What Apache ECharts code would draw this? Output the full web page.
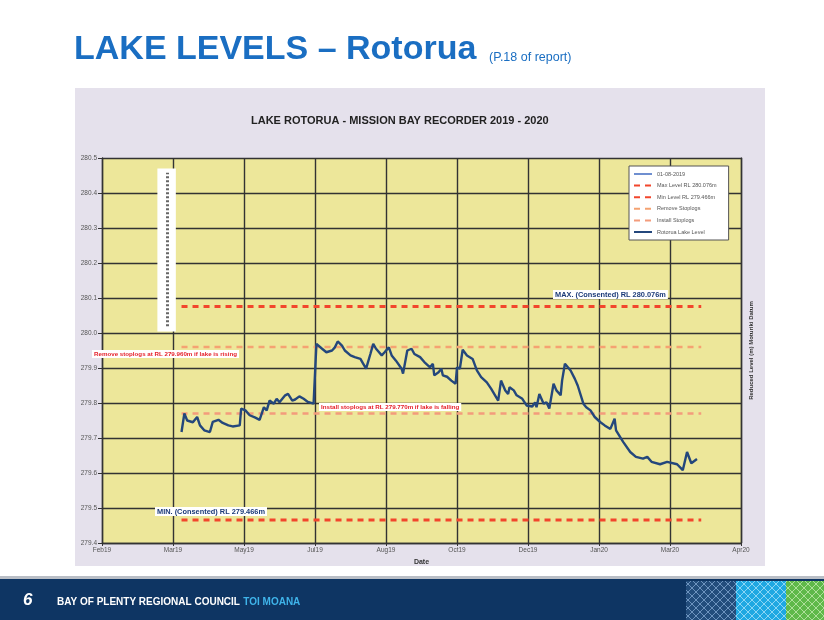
<!DOCTYPE html>
<html>
<head>
<meta charset="utf-8">
<script src="https://cdn.jsdelivr.net/npm/echarts@6/dist/echarts.min.js"></script>
<style>
  html, body { margin: 0; padding: 0; background: #fff; }
  #chart { width: 824px; height: 620px; }
</style>
</head>
<body>
<div id="chart"></div>
<script>
// lake level readings (Mission Bay recorder)
const dates = [
  '2019-04-01','2019-04-03','2019-04-05','2019-04-09','2019-04-12','2019-04-14','2019-04-17','2019-04-21','2019-04-23','2019-04-27','2019-04-30',
  '2019-05-04','2019-05-07','2019-05-12','2019-05-13','2019-05-16','2019-05-19','2019-05-23','2019-05-26','2019-05-29','2019-05-31',
  '2019-06-02','2019-06-05','2019-06-07','2019-06-09','2019-06-13','2019-06-15','2019-06-18','2019-06-20','2019-06-23','2019-06-26','2019-06-29',
  '2019-07-03','2019-07-05','2019-07-06','2019-07-09','2019-07-12','2019-07-16','2019-07-18','2019-07-20','2019-07-23','2019-07-25','2019-07-29',
  '2019-08-01','2019-08-05','2019-08-07','2019-08-09','2019-08-12','2019-08-14','2019-08-16','2019-08-20','2019-08-22','2019-08-25','2019-08-27','2019-08-30',
  '2019-09-03','2019-09-04','2019-09-07','2019-09-10','2019-09-12','2019-09-16','2019-09-19','2019-09-23','2019-09-25','2019-09-26','2019-09-29',
  '2019-10-01','2019-10-02','2019-10-05','2019-10-08','2019-10-11','2019-10-12','2019-10-14','2019-10-16','2019-10-19','2019-10-21','2019-10-23','2019-10-26','2019-10-29',
  '2019-11-02','2019-11-05','2019-11-10','2019-11-12','2019-11-15','2019-11-17','2019-11-18','2019-11-21','2019-11-23','2019-11-27','2019-11-30',
  '2019-12-04','2019-12-06','2019-12-07','2019-12-09','2019-12-12','2019-12-14','2019-12-16','2019-12-19','2019-12-21','2019-12-24','2019-12-25','2019-12-27','2019-12-31',
  '2020-01-03','2020-01-05','2020-01-09','2020-01-11','2020-01-14','2020-01-17','2020-01-21','2020-01-24','2020-01-28','2020-01-31',
  '2020-02-01','2020-02-06','2020-02-11','2020-02-15','2020-02-20','2020-02-23','2020-02-26',
  '2020-03-03','2020-03-08','2020-03-15','2020-03-19','2020-03-22','2020-03-25','2020-03-29'
];
const levels = [
  279.717,279.770,279.750,279.745,279.760,279.736,279.722,279.717,279.746,279.752,279.743,
  279.736,279.733,279.736,279.784,279.779,279.765,279.758,279.752,279.788,279.779,
  279.807,279.798,279.812,279.802,279.822,279.826,279.807,279.810,279.819,279.812,279.803,
  279.798,279.969,279.974,279.955,279.945,279.950,279.959,279.976,279.964,279.950,279.936,
  279.931,279.926,279.912,279.898,279.940,279.969,279.955,279.936,279.945,279.959,279.936,279.921,
  279.898,279.884,279.950,279.955,279.940,279.931,279.917,279.902,279.912,279.879,279.888,
  279.898,279.879,279.875,279.864,279.855,279.902,279.898,279.952,279.936,279.931,279.926,279.893,279.874,
  279.859,279.841,279.807,279.864,279.836,279.826,279.845,279.836,279.822,279.812,279.793,
  279.790,279.802,279.788,279.826,279.798,279.802,279.784,279.855,279.836,279.822,279.864,279.912,279.893,
  279.869,279.850,279.798,279.788,279.779,279.760,279.745,279.736,279.726,279.755,
  279.722,279.689,279.660,279.646,279.641,279.646,279.632,
  279.625,279.632,279.625,279.608,279.660,279.628,279.640
];

// reference levels (m)
const maxLevel = 280.076;
const minLevel = 279.466;
const removeLevel = 279.960;
const installLevel = 279.770;
const refStart = '2019-04-01';
const refEnd = '2020-04-01';

// white marker box with the dotted bar
const boxDates = ['2019-03-15', '2019-03-28'];
const boxMid = '2019-03-22';
const boxLevels = [280.004, 280.47];

// axes
const axisStart = '2019-02-04';
const axisDays = 450;
const tickDays = 50;
const yMin = 279.4, yMax = 280.5, yStep = 0.1;
const monthNames = ['Jan','Feb','Mar','Apr','May','Jun','Jul','Aug','Sep','Oct','Nov','Dec'];

const legendNames = ['01-08-2019', 'Max Level RL 280.076m', 'Min Level RL 279.466m',
  'Remove Stoplogs', 'Install Stoplogs', 'Rotorua Lake Level'];

const DAY = 86400000;
function utc(s) {
  const p = s.split('-').map(Number);
  return Date.UTC(p[0], p[1] - 1, p[2]);
}
const base = utc(axisStart);
function dayOf(s) { return (utc(s) - base) / DAY; }

const lakeData = dates.map((d, i) => [dayOf(d), levels[i]]);
function flat(v) { return [[dayOf(refStart), v], [dayOf(refEnd), v]]; }

const FONT = 'Liberation Sans, Arial, sans-serif';
const chart = echarts.init(document.getElementById('chart'));

function dashed(name, value, color, width) {
  return {
    name: name, type: 'line', data: flat(value), symbol: 'none', silent: true,
    lineStyle: { color: color, width: width, type: [6, 5] }, z: 3
  };
}

function note(x, y, text, color, size) {
  return {
    type: 'text', left: x, top: y, z: 50,
    style: {
      text: text, fill: color, font: 'bold ' + size + 'px ' + FONT,
      backgroundColor: '#ffffff', padding: [1, 2]
    }
  };
}

// lattice texture for the footer logo blocks
function lattice(bg, fg) {
  const c = document.createElement('canvas');
  c.width = 8; c.height = 8;
  const g = c.getContext('2d');
  g.fillStyle = bg; g.fillRect(0, 0, 8, 8);
  g.strokeStyle = fg; g.lineWidth = 1;
  g.beginPath();
  g.moveTo(0, 0); g.lineTo(8, 8);
  g.moveTo(8, 0); g.lineTo(0, 8);
  g.stroke();
  return { image: c, repeat: 'repeat' };
}

const option = {
  animation: false,
  textStyle: { fontFamily: FONT },
  title: {
    text: 'LAKE ROTORUA - MISSION BAY RECORDER 2019 - 2020',
    left: 246, top: 110,
    textStyle: { fontSize: 11, fontWeight: 'bold', color: '#222', fontFamily: FONT }
  },
  legend: {
    data: legendNames,
    orient: 'vertical',
    left: 629, top: 166,
    itemWidth: 18, itemHeight: 6, itemGap: 5.6,
    padding: [5, 12, 5, 4],
    backgroundColor: '#ffffff',
    borderColor: '#555', borderWidth: 1,
    itemStyle: { opacity: 0 },
    textStyle: { fontSize: 5.5, color: '#555', fontFamily: FONT }
  },
  grid: {
    left: 102, right: 83, top: 158, bottom: 77,
    show: true, backgroundColor: '#ede79a', borderWidth: 0
  },
  xAxis: {
    type: 'value', min: 0, max: axisDays, interval: tickDays,
    name: 'Date', nameLocation: 'middle', nameGap: 11,
    nameTextStyle: { fontSize: 7, fontWeight: 'bold', color: '#333' },
    axisLine: { lineStyle: { color: '#333', width: 1.4 } },
    axisTick: { show: true, length: 3, lineStyle: { color: '#333' } },
    axisLabel: {
      fontSize: 6.5, color: '#555', margin: 4,
      formatter: function (v) {
        const d = new Date(base + v * DAY);
        return monthNames[d.getUTCMonth()] + String(d.getUTCFullYear()).slice(2);
      }
    },
    splitLine: { show: true, lineStyle: { color: '#333', width: 1.4 } }
  },
  yAxis: [{
    type: 'value', min: yMin, max: yMax, interval: yStep,
    axisLine: { show: true, lineStyle: { color: '#333', width: 1.4 } },
    axisTick: { show: true, length: 4, lineStyle: { color: '#333' } },
    axisLabel: { fontSize: 6.5, color: '#555', margin: 5, formatter: v => v.toFixed(1) },
    splitLine: { show: true, lineStyle: { color: '#333', width: 1.4 } }
  }, {
    type: 'value', min: yMin, max: yMax, interval: yStep, position: 'right',
    name: 'Reduced Level (m) Moturiki Datum', nameLocation: 'middle', nameGap: 7, nameRotate: 90,
    nameTextStyle: { fontSize: 6, fontWeight: 'bold', color: '#333' },
    axisLine: { show: true, lineStyle: { color: '#333', width: 1.4 } },
    axisTick: { show: false }, axisLabel: { show: false }, splitLine: { show: false }
  }],
  graphic: [
    { type: 'rect', shape: { x: 75, y: 88, width: 690, height: 478 }, style: { fill: '#e5e1ec' }, z: -100 },
    { type: 'text', left: 74, top: 33, style: { text: 'LAKE LEVELS \u2013 Rotorua', fill: '#1a6ec2', font: 'bold 34px ' + FONT } },
    { type: 'text', left: 489, top: 51, style: { text: '(P.18 of report)', fill: '#1a6ec2', font: '12.5px ' + FONT } },
    note(92, 350, 'Remove stoplogs at RL 279.960m if lake is rising', '#e5202a', 6.2),
    note(319, 403, 'Install stoplogs at RL 279.770m if lake is falling', '#e5202a', 6.2),
    note(553, 290, 'MAX. (Consented) RL 280.076m', '#1b3a78', 7.4),
    note(155, 507, 'MIN. (Consented) RL 279.466m', '#1b3a78', 7.4),
    { type: 'rect', shape: { x: 0, y: 576, width: 824, height: 3 }, style: { fill: '#b9bec6' }, z: 1 },
    { type: 'rect', shape: { x: 0, y: 579, width: 824, height: 41 }, style: { fill: '#0e3563' }, z: 1 },
    { type: 'rect', shape: { x: 686, y: 581, width: 50, height: 39 }, style: { fill: lattice('#234d7c', '#6d93be') }, z: 2 },
    { type: 'rect', shape: { x: 736, y: 581, width: 50, height: 39 }, style: { fill: lattice('#1ea8e2', '#8ad6f5') }, z: 2 },
    { type: 'rect', shape: { x: 786, y: 581, width: 38, height: 39 }, style: { fill: lattice('#5fb94a', '#aee09a') }, z: 2 },
    { type: 'text', left: 23, top: 592, z: 3, style: { text: '6', fill: '#ffffff', font: 'italic bold 17px ' + FONT } },
    {
      type: 'text', left: 57, top: 596, z: 3,
      style: {
        text: '{a|BAY OF PLENTY REGIONAL COUNCIL} {b|TOI MOANA}',
        rich: {
          a: { fill: '#ffffff', fontSize: 10, fontWeight: 'bold', fontFamily: FONT },
          b: { fill: '#3fb4ea', fontSize: 10, fontWeight: 'bold', fontFamily: FONT }
        }
      }
    }
  ],
  series: [
    {
      name: legendNames[0], type: 'line', data: [], symbol: 'none',
      lineStyle: { color: '#6f8fd0', width: 2 },
      markArea: {
        silent: true,
        itemStyle: { color: '#ffffff' },
        data: [[{ coord: [dayOf(boxDates[0]), boxLevels[0]] }, { coord: [dayOf(boxDates[1]), boxLevels[1]] }]]
      },
      markLine: {
        silent: true, symbol: 'none', label: { show: false },
        lineStyle: { color: '#666', width: 3, type: [2, 2] },
        data: [[{ coord: [dayOf(boxMid), boxLevels[0] + 0.015] }, { coord: [dayOf(boxMid), boxLevels[1] - 0.012] }]]
      },
      z: 2
    },
    dashed(legendNames[1], maxLevel, '#f2462c', 3),
    dashed(legendNames[2], minLevel, '#f2462c', 3),
    dashed(legendNames[3], removeLevel, '#f5a272', 2.5),
    dashed(legendNames[4], installLevel, '#f39c7c', 2.5),
    {
      name: legendNames[5], type: 'line', data: lakeData, symbol: 'none',
      lineStyle: { color: '#24477c', width: 2.4 }, z: 4
    }
  ]
};
chart.setOption(option);
</script>
</body>
</html>
